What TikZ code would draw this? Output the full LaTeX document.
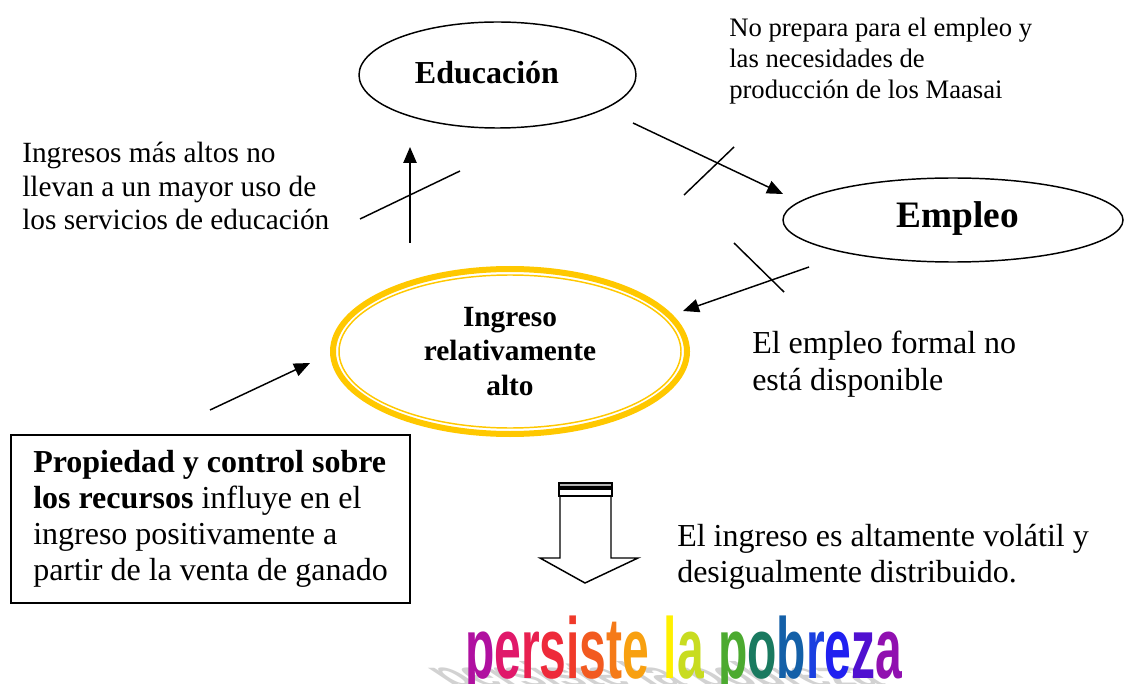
\documentclass[tikz,border=0pt]{standalone}
\usepackage{fontspec}
\setmainfont{Liberation Serif}
\newfontfamily\arte{Liberation Sans}
\usetikzlibrary{shapes.geometric, arrows.meta}
\definecolor{oro}{HTML}{FFC800}
\definecolor{ca}{HTML}{B010A0}
\definecolor{cb}{HTML}{E0186A}
\definecolor{cc}{HTML}{E82050}
\definecolor{cd}{HTML}{EE2A3A}
\definecolor{ce}{HTML}{F03A2A}
\definecolor{cf}{HTML}{F25A20}
\definecolor{cg}{HTML}{F57A18}
\definecolor{ch}{HTML}{F8A010}
\definecolor{ci}{HTML}{FFF000}
\definecolor{cj}{HTML}{C8DC20}
\definecolor{ck}{HTML}{4CAA30}
\definecolor{cl}{HTML}{1A7A60}
\definecolor{cm}{HTML}{1460A8}
\definecolor{cn}{HTML}{1A40E0}
\definecolor{co}{HTML}{2020F0}
\definecolor{cp}{HTML}{5010D0}
\definecolor{cq}{HTML}{9010B0}
\newcommand{\letra}[2]{\textcolor{#1}{#2}}
\newcommand{\pobreza}{\letra{ca}{p}\letra{cb}{e}\letra{cc}{r}\letra{cd}{s}\letra{ce}{i}\letra{cf}{s}\letra{cg}{t}\letra{ch}{e}\hspace{0.3em}\letra{ci}{l}\letra{cj}{a}\hspace{0.3em}\letra{ck}{p}\letra{cl}{o}\letra{cm}{b}\letra{cn}{r}\letra{co}{e}\letra{cp}{z}\letra{cq}{a}}

\begin{document}
\begin{tikzpicture}[x=0.75pt, y=-0.75pt,
        flecha/.style={line width=1.1pt, -{Triangle[length=12pt, width=10pt]}},
        corte/.style={line width=1.1pt},
        elipse/.style={draw, ellipse, line width=1.1pt, inner sep=0pt},
        nota/.style={align=left, inner sep=0pt, anchor=west}]

                \useasboundingbox (0,0) rectangle (1124,684);

                % elipses
                \node[elipse, minimum width=207.75pt, minimum height=79.5pt] (educacion) at (497.5,75) {};
                \node[font=\bfseries\fontsize{24}{28}\selectfont] (educaciontxt) at (487,73) {Educación};
                \node[elipse, minimum width=255pt, minimum height=63pt] (empleo) at (953,220) {};
                \node[font=\bfseries\fontsize{28}{32}\selectfont] (empleotxt) at (958,219) {Empleo};
                \node[elipse, draw=oro, line width=4.5pt, minimum width=265.5pt, minimum height=123.75pt,
                    align=center, font=\bfseries\fontsize{22}{26}\selectfont] (ingreso) at (510,351.5) {Ingreso\\relativamente\\alto};
                \draw[oro, line width=1.1pt] (ingreso.center) ellipse [x radius=171, y radius=76.5];

                % textos
                \node[nota, font=\fontsize{20}{23}\selectfont] (noprepara) at (729,61) {No prepara para el empleo y\\las necesidades de\\producción de los Maasai};
                \node[nota, font=\fontsize{22}{25}\selectfont] (ingresos) at (22,186) {Ingresos más altos no\\llevan a un mayor uso de\\los servicios de educación};
                \node[nota, font=\fontsize{24}{27.75}\selectfont] (formal) at (752,364) {El empleo formal no\\está disponible};
                \node[nota, font=\fontsize{24}{27}\selectfont] (volatil) at (677,557) {El ingreso es altamente volátil y\\desigualmente distribuido.};

                % caja de propiedad
                \node[draw, line width=1.1pt, minimum width=299.25pt, minimum height=126pt, inner sep=0pt,
                    align=left, font=\fontsize{24}{27}\selectfont] (caja) at (210.5,519)
                    {\textbf{Propiedad y control sobre}\\\textbf{los recursos} influye en el\\ingreso positivamente a\\partir de la venta de ganado};

                % extremos de las flechas
                \coordinate (a1) at (410,243);
                \coordinate (a2) at (410,147);
                \coordinate (b1) at (633,123);
                \coordinate (b2) at (783,194);
                \coordinate (c1) at (809,267);
                \coordinate (c2) at (683,311);
                \coordinate (d1) at (210,410);
                \coordinate (d2) at (310,363);

                % flechas
                \draw[flecha] (a1) -- (a2);
                \draw[flecha] (b1) -- (b2);
                \draw[flecha] (c1) -- (c2);
                \draw[flecha] (d1) -- (d2);

                % cortes sobre las flechas
                \coordinate (ca1) at (360,219);
                \coordinate (ca2) at (460,171);
                \coordinate (cb1) at (684,195);
                \coordinate (cb2) at (734,147);
                \coordinate (cc1) at (734,243);
                \coordinate (cc2) at (784,292);
                \draw[corte] (ca1) -- (ca2);
                \draw[corte] (cb1) -- (cb2);
                \draw[corte] (cc1) -- (cc2);

                % flecha hueca hacia abajo
                \filldraw[fill=gray!60, line width=1.1pt] (559,483) rectangle (612,487);
                \draw[line width=1.1pt] (559,489) rectangle (612,496);
                \draw[line width=1.1pt, line join=miter] (560,496) -- (560,558) -- (540,558) -- (585,583)
                    -- (638,558) -- (611,558) -- (611,496);

                % sombra y texto de la pobreza
                \begin{scope}[shift={(452,686)}, yscale=0.4, xslant=-0.6]
                    \node[transform shape, anchor=base west, inner sep=0pt, text=gray!35,
                        font=\arte\bfseries\fontsize{36}{36}\selectfont] (sombra) at (0,0)
                        {\scalebox{1}[1.8]{persiste\hspace{0.3em}la\hspace{0.3em}pobreza}};
                \end{scope}
                \node[anchor=base west, inner sep=0pt, font=\arte\bfseries\fontsize{36}{36}\selectfont] (pobreza) at (465,678)
                    {\scalebox{1}[1.8]{\pobreza}};

\end{tikzpicture}
\end{document}
